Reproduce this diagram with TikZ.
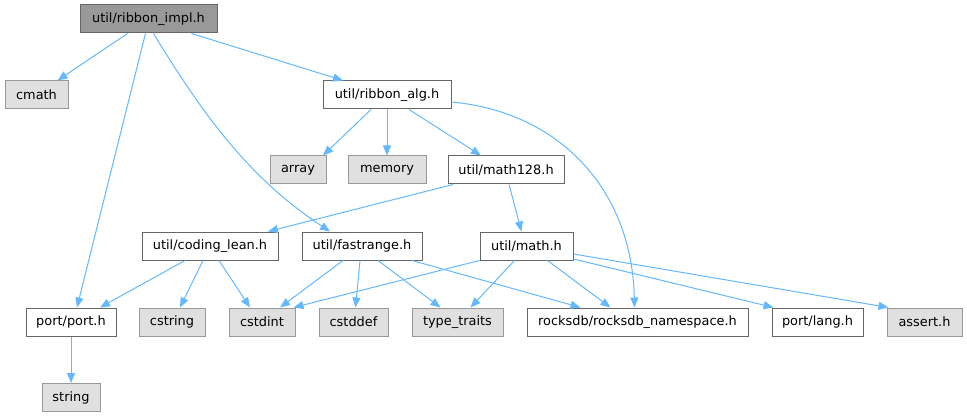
\documentclass[tikz,border=0pt]{standalone}
\usepackage{fontspec}
\setmainfont{DejaVu Sans}
\usetikzlibrary{arrows.meta}
\definecolor{edgeblue}{HTML}{63B8FF}

\begin{document}
\begin{tikzpicture}[x=1pt, y=-1pt,
  file/.style={draw=black!60, fill=white, line width=1pt, minimum height=28pt, inner sep=0pt, font=\fontsize{12.9}{15}\selectfont},
  sysfile/.style={file, draw=black!40, fill=black!12},
  root/.style={file, fill=black!40},
  dep/.style={draw=edgeblue, line width=1pt, -{Triangle[length=10pt,width=8pt]}}
]
\useasboundingbox (0,0) rectangle (967,417);

\node[root, minimum width=137pt] (impl) at (148.5,19) {util/ribbon\_impl.h};

\node[sysfile, minimum width=63pt] (cmath) at (36.5,95) {cmath};
\node[file, minimum width=128pt] (ralg) at (387,95) {util/ribbon\_alg.h};

\node[sysfile, minimum width=56pt] (array) at (298,170) {array};
\node[sysfile, minimum width=78pt] (memory) at (387,170) {memory};
\node[file, minimum width=116pt] (m128) at (506,170) {util/math128.h};

\node[file, minimum width=136pt] (coding) at (210,246) {util/coding\_lean.h};
\node[file, minimum width=120pt] (fastr) at (362,246) {util/fastrange.h};
\node[file, minimum width=93pt] (mathh) at (526.5,246) {util/math.h};

\node[file, minimum width=90pt] (port) at (71,322) {port/port.h};
\node[sysfile, minimum width=66pt] (cstring) at (172,322) {cstring};
\node[sysfile, minimum width=66pt] (cstdint) at (262,322) {cstdint};
\node[sysfile, minimum width=69pt] (cstddef) at (353.5,322) {cstddef};
\node[sysfile, minimum width=91pt] (ttraits) at (457.5,322) {type\_traits};
\node[file, minimum width=221pt] (rns) at (637.5,322) {rocksdb/rocksdb\_namespace.h};
\node[file, minimum width=91pt] (lang) at (817.5,322) {port/lang.h};
\node[sysfile, minimum width=75pt] (assert) at (924.5,322) {assert.h};

\node[sysfile, minimum width=58pt] (string) at (71,397.5) {string};

\draw[dep] ([xshift=-21pt]impl.south) -- ([xshift=21pt]cmath.north);
\draw[dep] ([xshift=-3pt]impl.south) -- ([xshift=6pt]port.north);
\draw[dep] ([xshift=5pt]impl.south) .. controls (209,125) and (255,182) .. ([xshift=-32pt]fastr.north);
\draw[dep] ([xshift=43pt]impl.south) -- ([xshift=-44pt]ralg.north);

\draw[dep] ([xshift=-16pt]ralg.south) -- ([xshift=25pt]array.north);
\draw[dep] (ralg.south) -- (memory.north);
\draw[dep] ([xshift=22pt]ralg.south) -- ([xshift=-25pt]m128.north);
\draw[dep] ([yshift=-7pt]ralg.east) .. controls (560,112) and (632,190) .. ([xshift=-3pt]rns.north);

\draw[dep] ([xshift=-53pt]m128.south) -- ([xshift=58pt]coding.north);
\draw[dep] ([xshift=3pt]m128.south) -- ([xshift=-5pt]mathh.north);

\draw[dep] ([xshift=-25pt]coding.south) -- ([xshift=29pt]port.north);
\draw[dep] ([xshift=-7pt]coding.south) -- ([xshift=8pt]cstring.north);
\draw[dep] ([xshift=9pt]coding.south) -- ([xshift=-12pt]cstdint.north);

\draw[dep] ([xshift=-19pt]fastr.south) -- ([xshift=18pt]cstdint.north);
\draw[dep] ([xshift=-2pt]fastr.south) -- ([xshift=2pt]cstddef.north);
\draw[dep] ([xshift=16pt]fastr.south) -- ([xshift=-17pt]ttraits.north);
\draw[dep] ([xshift=50pt]fastr.south) -- ([xshift=-57pt]rns.north);

\draw[dep] (mathh.south west) -- ([xshift=-2pt]cstdint.north east);
\draw[dep] ([xshift=-12pt]mathh.south) -- ([xshift=13pt]ttraits.north);
\draw[dep] ([xshift=21pt]mathh.south) -- ([xshift=-27pt]rns.north);
\draw[dep] ([yshift=-13pt]mathh.east) -- ([xshift=2pt]lang.north west);
\draw[dep] ([yshift=-8pt]mathh.east) -- ([xshift=2pt]assert.north west);

\draw[dep] (port.south) -- (string.north);
\end{tikzpicture}
\end{document}
